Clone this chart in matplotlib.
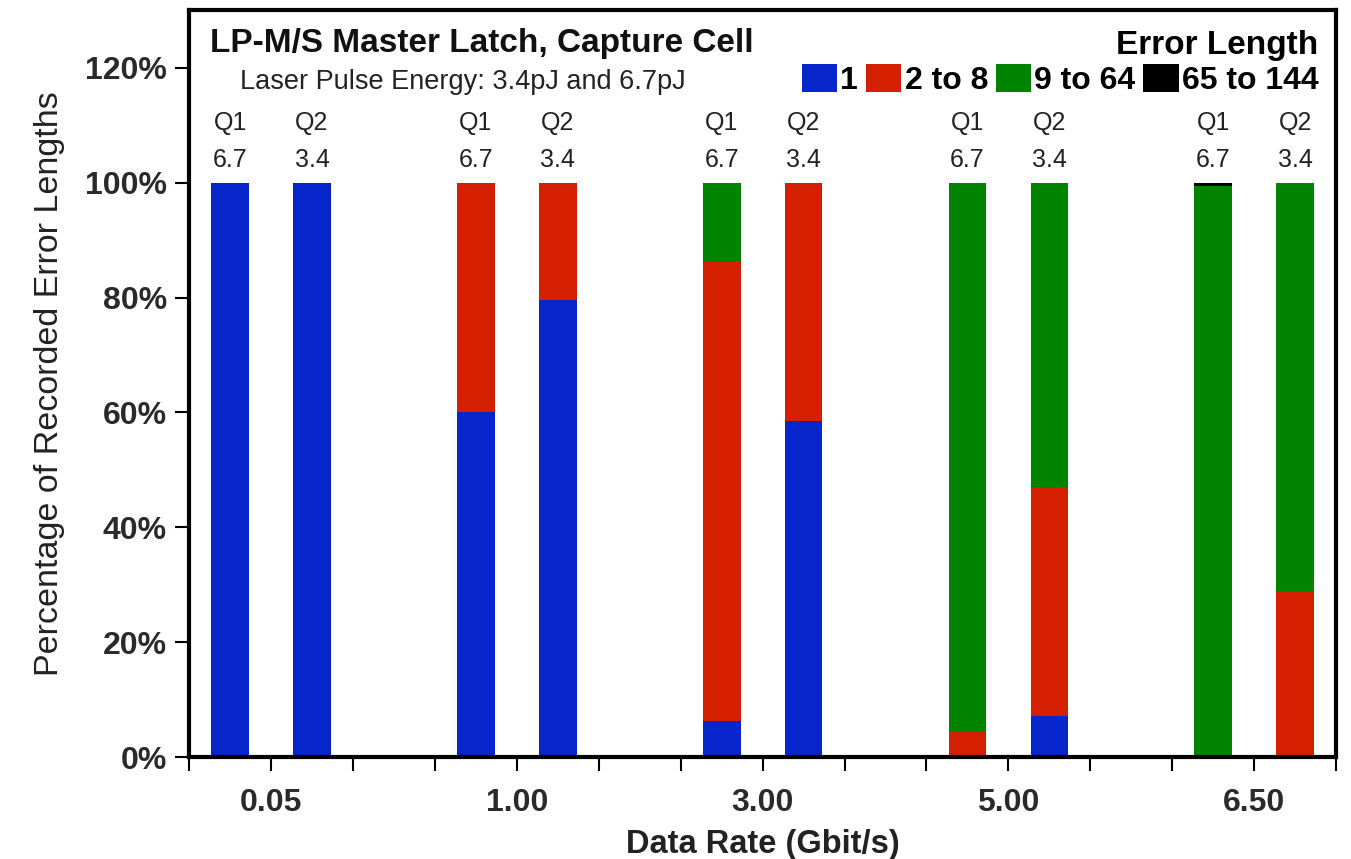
import matplotlib.pyplot as plt
from matplotlib.patches import Patch
import numpy as np

plt.rcParams['font.family'] = ['Liberation Sans', 'DejaVu Sans']

# data
groups = ['0.05', '1.00', '3.00', '5.00', '6.50']
bar_tops = ['Q1', 'Q2']
energies = ['6.7', '3.4']
series_names = ['1', '2 to 8', '9 to 64', '65 to 144']
colors = ['#0626cc', '#d42000', '#008300', '#000000']

# one value per bar: (0.05 Q1, 0.05 Q2, 1.00 Q1, 1.00 Q2, ...)
len_1 = [100, 100, 60.0, 79.5, 6.3, 58.5, 0.0, 7.1, 0.0, 0.0]
len_2_8 = [0, 0, 40.0, 20.5, 79.9, 41.5, 4.5, 39.9, 0.0, 28.9]
len_9_64 = [0, 0, 0, 0, 13.8, 0, 95.5, 53.0, 99.5, 71.1]
len_65_144 = [0, 0, 0, 0, 0, 0, 0, 0, 0.5, 0]
series = [len_1, len_2_8, len_9_64, len_65_144]

# slots: Q1, Q2, blank for each group (no blank after last)
slots = []
for g in range(len(groups)):
    slots += [3 * g + 0.5, 3 * g + 1.5]
slots = np.array(slots)

fig = plt.figure(figsize=(13.51, 8.59), dpi=100)
ax = fig.add_axes([0.14, 0.1187, 0.849, 0.8693])

bottom = np.zeros(len(slots))
for vals, c in zip(series, colors):
    vals = np.array(vals, dtype=float)
    ax.bar(slots, vals, width=0.46, bottom=bottom, color=c, linewidth=0)
    bottom += vals

ax.set_xlim(0, 14)
ax.set_ylim(0, 130)
ax.set_yticks(np.arange(0, 121, 20))
ax.set_yticklabels([f'{v}%' for v in range(0, 121, 20)],
                   fontsize=23, fontweight='bold', color='#2a2a2a')
ax.xaxis.remove_overlapping_locs = False
ax.set_xticks(np.arange(0, 15))
ax.set_xticklabels([])
ax.set_xticks([3 * g + 1 for g in range(len(groups))], minor=True)
ax.set_xticklabels(groups, minor=True, fontsize=23, fontweight='bold',
                   color='#2a2a2a')
ax.tick_params(axis='x', which='major', length=10, width=1.5, direction='out')
ax.tick_params(axis='x', which='minor', length=0, pad=22)
ax.tick_params(axis='y', length=10, width=1.5, pad=6)

for s in ax.spines.values():
    s.set_linewidth(3)

ax.set_ylabel('Percentage of Recorded Error Lengths', fontsize=24.5,
              color='#222222', labelpad=14)
ax.set_xlabel('Data Rate (Gbit/s)', fontsize=23.5, fontweight='bold',
              color='#222222', labelpad=8)

# bar top labels
for i, x in enumerate(slots):
    ax.text(x, 110.4, bar_tops[i % 2], ha='center', va='center', fontsize=18,
            color='#222222')
    ax.text(x, 104.0, energies[i % 2], ha='center', va='center', fontsize=18,
            color='#222222')

ax.text(0.018, 0.955, 'LP-M/S Master Latch, Capture Cell',
        transform=ax.transAxes, fontsize=24, fontweight='bold',
        va='center', ha='left', color='#111111')
ax.text(0.0445, 0.904, 'Laser Pulse Energy: 3.4pJ and 6.7pJ',
        transform=ax.transAxes, fontsize=19.5, va='center', ha='left',
        color='#222222')

handles = [Patch(facecolor=c, edgecolor='none') for c in colors]
leg = ax.legend(handles, series_names, title='Error Length', ncol=4,
                loc='upper right', bbox_to_anchor=(0.9985, 0.995),
                frameon=False, handlelength=1.1, handleheight=0.95,
                handletextpad=0.1, columnspacing=0.25,
                prop={'size': 23, 'weight': 'bold'},
                title_fontproperties={'size': 24, 'weight': 'bold'},
                alignment='right', borderaxespad=0.2, borderpad=0.3,
                labelspacing=0.1)

fig.savefig('out.png', dpi=100)
